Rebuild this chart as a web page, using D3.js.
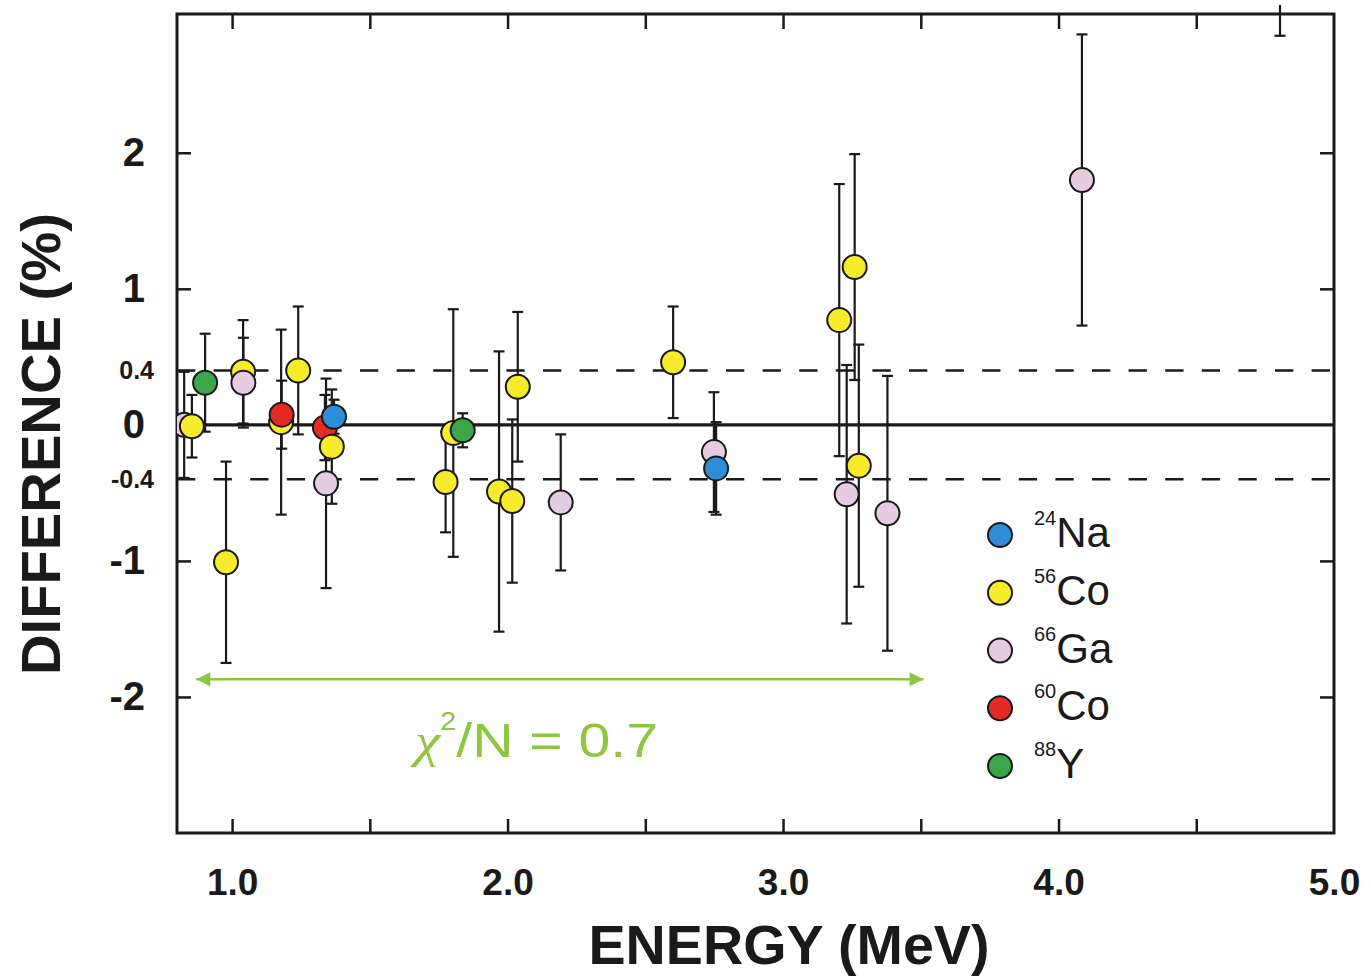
<!DOCTYPE html>
<html>
  <head>
    <title>Difference vs Energy</title>
    <script src="https://d3js.org/d3.v7.min.js"></script>
    <style>
      body { margin: 0; background: #fff; }
      text { font-family: "Liberation Sans", Arial, sans-serif; fill: #1a1a1a; }
      .tick line { stroke: #1a1a1a; stroke-width: 2.5; }
    </style>
  </head>
  <body>
    <svg width="1371" height="978"></svg>
    <script>
      // data: [energy MeV, difference %, error %]
      var na24 = [
        [1.370, 0.06, 0.125],
        [2.757, -0.32, 0.34],
      ];
      var co56 = [
        [0.854, -0.01, 0.23],
        [0.978, -1.01, 0.74],
        [1.040, 0.39, 0.38],
        [1.178, 0.02, 0.68],
        [1.240, 0.40, 0.47],
        [1.362, -0.16, 0.42],
        [1.775, -0.42, 0.37],
        [1.803, -0.06, 0.91],
        [1.969, -0.49, 1.03],
        [2.017, -0.56, 0.6],
        [2.037, 0.28, 0.55],
        [2.601, 0.46, 0.41],
        [3.204, 0.77, 1.0],
        [3.260, 1.16, 0.83],
        [3.275, -0.30, 0.89],
      ];
      var ga66 = [
        [0.826, 0.0, 0.39],
        [1.041, 0.31, 0.33],
        [1.341, -0.43, 0.77],
        [2.193, -0.57, 0.5],
        [2.749, -0.2, 0.44],
        [3.231, -0.51, 0.95],
        [3.379, -0.65, 1.01],
        [4.085, 1.8, 1.07],
        [4.804, 3.95, 1.09],
      ];
      var co60 = [
        [1.180, 0.075, 0.25],
        [1.337, -0.02, 0.24],
      ];
      var y88 = [
        [0.902, 0.31, 0.36],
        [1.837, -0.04, 0.125],
      ];

      var isotopes = [
        { mass: "24", sym: "Na", color: "#2f8ed6", points: na24 },
        { mass: "56", sym: "Co", color: "#f6ec2c", points: co56 },
        { mass: "66", sym: "Ga", color: "#e6cce2", points: ga66 },
        { mass: "60", sym: "Co", color: "#e42a25", points: co60 },
        { mass: "88", sym: "Y", color: "#3ca64a", points: y88 },
      ];

      var xMinorTicks = [1.0, 1.5, 2.0, 2.5, 3.0, 3.5, 4.0, 4.5];
      var xLabels = [1.0, 2.0, 3.0, 4.0, 5.0];
      var yTicks = [-2, -1, 1, 2];
      var yLabelsBig = [2, 1, 0, -1, -2];
      var yLabelsSmall = [0.4, -0.4];
      var band = [-0.4, 0.4];
      var chiRange = [0.87, 3.51]; // extent of the green arrow
      var chiLevel = -1.87;

      var green = "#8dc63f";
      var svg = d3.select("svg");

      var x = d3.scaleLinear().domain([0.8, 5.0]).range([177, 1334]);
      var y = d3.scaleLinear().domain([-3.0, 3.02]).range([833, 14]);

      // inward tick marks on all four sides
      svg.append("g")
        .attr("transform", "translate(0," + y.range()[0] + ")")
        .call(d3.axisBottom(x).tickValues(xMinorTicks).tickSize(-14).tickFormat(""))
        .call(function (g) { g.select(".domain").remove(); });
      svg.append("g")
        .attr("transform", "translate(0," + y.range()[1] + ")")
        .call(d3.axisTop(x).tickValues(xMinorTicks).tickSize(-15).tickFormat(""))
        .call(function (g) { g.select(".domain").remove(); });
      svg.append("g")
        .attr("transform", "translate(" + x.range()[0] + ",0)")
        .call(d3.axisLeft(y).tickValues(yTicks).tickSize(-14).tickFormat(""))
        .call(function (g) { g.select(".domain").remove(); });
      svg.append("g")
        .attr("transform", "translate(" + x.range()[1] + ",0)")
        .call(d3.axisRight(y).tickValues(yTicks).tickSize(-14).tickFormat(""))
        .call(function (g) { g.select(".domain").remove(); });

      // tick labels (plain hyphen for the minus sign, as in the figure)
      var xl = svg.append("g")
        .attr("transform", "translate(0," + y.range()[0] + ")")
        .call(d3.axisBottom(x).tickValues(xLabels).tickSize(0).tickPadding(36)
          .tickFormat(function (d) { return d.toFixed(1); }));
      xl.select(".domain").remove();
      xl.selectAll("text").attr("font-size", 37).attr("font-weight", "bold")
        .attr("font-family", null).style("fill", "#1a1a1a");

      var yl = svg.append("g")
        .attr("transform", "translate(" + x.range()[0] + ",0)")
        .call(d3.axisLeft(y).tickValues(yLabelsBig).tickSize(0).tickPadding(32)
          .tickFormat(function (d) { return String(d); }));
      yl.select(".domain").remove();
      yl.selectAll("text").attr("font-size", 40).attr("font-weight", "bold")
        .attr("font-family", null).style("fill", "#1a1a1a");

      var ys = svg.append("g")
        .attr("transform", "translate(" + x.range()[0] + ",0)")
        .call(d3.axisLeft(y).tickValues(yLabelsSmall).tickSize(0).tickPadding(23)
          .tickFormat(function (d) { return d.toFixed(1); }));
      ys.select(".domain").remove();
      ys.selectAll("text").attr("font-size", 25).attr("font-weight", "bold")
        .attr("font-family", null).style("fill", "#1a1a1a");

      // zero line and +-0.4 band
      svg.append("line")
        .attr("x1", x.range()[0]).attr("x2", x.range()[1])
        .attr("y1", y(0)).attr("y2", y(0))
        .style("stroke", "#1a1a1a").style("stroke-width", 3.2);
      svg.selectAll("line.band")
        .data(band)
        .enter()
        .append("line")
        .attr("class", "band")
        .attr("x1", x.range()[0]).attr("x2", x.range()[1])
        .attr("y1", function (d) { return y(d); })
        .attr("y2", function (d) { return y(d); })
        .style("stroke", "#1a1a1a").style("stroke-width", 2.6)
        .style("stroke-dasharray", "18.3,18.3");

      // frame
      svg.append("rect")
        .attr("x", x.range()[0]).attr("y", y.range()[1])
        .attr("width", x.range()[1] - x.range()[0])
        .attr("height", y.range()[0] - y.range()[1])
        .style("fill", "none").style("stroke", "#1a1a1a").style("stroke-width", 3);

      // clip the data a little above the frame (off-scale point)
      svg.append("clipPath").attr("id", "plotclip")
        .append("rect")
        .attr("x", x.range()[0]).attr("y", y.range()[1] - 9)
        .attr("width", x.range()[1] - x.range()[0])
        .attr("height", y.range()[0] - y.range()[1] + 9);

      // flatten all points, drawn in order of energy
      var points = [];
      isotopes.forEach(function (iso) {
        iso.points.forEach(function (p) {
          points.push({ e: p[0], v: p[1], err: p[2], color: iso.color });
        });
      });
      points.sort(function (a, b) { return a.e - b.e; });

      var plot = svg.append("g").attr("clip-path", "url(#plotclip)");

      // error bars
      var capW = 5.5;
      var bars = plot.selectAll("g.err")
        .data(points)
        .enter()
        .append("g")
        .attr("class", "err")
        .style("stroke", "#1a1a1a")
        .style("stroke-width", 2.2);
      bars.append("line")
        .attr("x1", function (d) { return x(d.e); })
        .attr("x2", function (d) { return x(d.e); })
        .attr("y1", function (d) { return y(d.v - d.err); })
        .attr("y2", function (d) { return y(d.v + d.err); });
      [-1, 1].forEach(function (s) {
        bars.append("line")
          .attr("x1", function (d) { return x(d.e) - capW; })
          .attr("x2", function (d) { return x(d.e) + capW; })
          .attr("y1", function (d) { return y(d.v + s * d.err); })
          .attr("y2", function (d) { return y(d.v + s * d.err); });
      });

      // markers
      plot.selectAll("circle.pt")
        .data(points)
        .enter()
        .append("circle")
        .attr("class", "pt")
        .attr("cx", function (d) { return x(d.e); })
        .attr("cy", function (d) { return y(d.v); })
        .attr("r", 12)
        .style("fill", function (d) { return d.color; })
        .style("stroke", "#1a1a1a")
        .style("stroke-width", 2);

      // green double arrow + chi2 text
      var defs = svg.append("defs");
      ["start", "end"].forEach(function (k) {
        defs.append("marker")
          .attr("id", "arr-" + k)
          .attr("viewBox", "0 -5 10 10")
          .attr("refX", k === "end" ? 10 : 0)
          .attr("refY", 0)
          .attr("markerUnits", "userSpaceOnUse")
          .attr("markerWidth", 16)
          .attr("markerHeight", 14)
          .attr("orient", "auto")
          .append("path")
          .attr("d", k === "end" ? "M0,-5L10,0L0,5Z" : "M10,-5L0,0L10,5Z")
          .style("fill", green);
      });
      svg.append("line")
        .attr("x1", x(chiRange[0])).attr("x2", x(chiRange[1]))
        .attr("y1", y(chiLevel)).attr("y2", y(chiLevel))
        .style("stroke", green).style("stroke-width", 2.5)
        .attr("marker-start", "url(#arr-start)")
        .attr("marker-end", "url(#arr-end)");

      var chi = svg.append("text")
        .attr("x", 415).attr("y", 757)
        .attr("textLength", 243).attr("lengthAdjust", "spacingAndGlyphs")
        .style("fill", green).attr("font-size", 49);
      chi.append("tspan").attr("font-family", "Liberation Serif, serif")
        .attr("font-style", "italic").style("fill", green).text("χ");
      chi.append("tspan").attr("font-size", 25).attr("dy", -27).style("fill", green).text("2");
      chi.append("tspan").attr("dy", 27).style("fill", green).text("/N = 0.7");

      // legend
      var ly = d3.scalePoint().domain(d3.range(isotopes.length)).range([535, 766]);
      var legend = svg.append("g").attr("class", "legend");
      var items = legend.selectAll("g.item")
        .data(isotopes)
        .enter()
        .append("g")
        .attr("class", "item")
        .attr("transform", function (d, i) { return "translate(1000," + ly(i) + ")"; });
      items.append("circle")
        .attr("r", 12)
        .style("fill", function (d) { return d.color; })
        .style("stroke", "#1a1a1a")
        .style("stroke-width", 2);
      var lt = items.append("text").attr("x", 34).attr("y", 12);
      lt.append("tspan").attr("font-size", 20).attr("dy", -22).text(function (d) { return d.mass; });
      lt.append("tspan").attr("font-size", 42).attr("dy", 22).text(function (d) { return d.sym; });

      // axis titles
      svg.append("text")
        .attr("x", 789).attr("y", 964)
        .attr("text-anchor", "middle")
        .attr("font-size", 55).attr("font-weight", "bold")
        .attr("textLength", 401).attr("lengthAdjust", "spacingAndGlyphs")
        .text("ENERGY (MeV)");
      svg.append("text")
        .attr("transform", "translate(60,444) rotate(-90)")
        .attr("text-anchor", "middle")
        .attr("font-size", 56).attr("font-weight", "bold")
        .attr("textLength", 462).attr("lengthAdjust", "spacingAndGlyphs")
        .text("DIFFERENCE (%)");
    </script>
  </body>
</html>
